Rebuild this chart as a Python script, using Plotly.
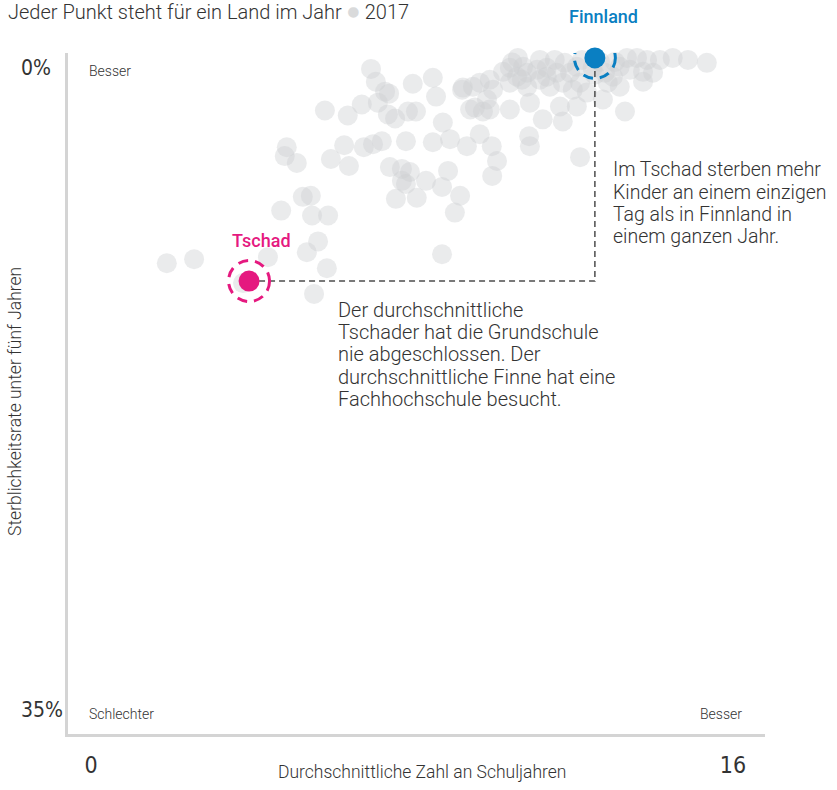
import plotly.graph_objects as go

# ---- data: mean years of schooling (x) vs. under-five mortality rate in % (y), 2017 ----
schooling = [
    10.64, 11.19, 11.56, 10.77, 10.44, 10.27, 10.62, 10.87, 11.12, 11.36, 11.61, 11.94, 12.11, 12.24,
    13.36, 13.61, 13.86, 14.18, 14.50, 14.88, 15.35, 13.18, 13.43, 13.76, 13.01, 12.81, 13.76, 14.01,
    9.94, 9.69, 9.27, 9.52, 10.02, 10.44, 10.74, 10.87, 11.19, 11.44, 11.36, 11.76, 12.01, 12.19,
    12.88, 13.18, 13.31, 9.57, 9.77, 9.87, 10.44, 10.94, 11.26, 11.69, 11.76, 12.11, 12.36, 12.76,
    8.77, 8.95, 9.37, 9.69, 9.99, 10.12, 10.92, 10.94, 12.19, 9.25, 9.45, 9.94, 10.00,
    6.98, 7.10, 7.33, 7.43, 8.02, 8.52, 8.60, 5.83, 6.40, 6.75, 7.15, 7.40, 7.58, 7.90, 8.10,
    4.88, 4.83, 5.13, 5.98, 6.31, 6.43, 6.80, 7.03, 7.25, 7.85, 8.52, 7.45, 7.75, 7.95, 7.75,
    7.85, 8.35, 8.75, 8.90, 7.60, 8.12, 9.20, 9.07, 8.75, 5.28, 5.48, 4.74, 5.51, 5.91, 5.66,
    5.38, 4.41, 5.88, 1.89, 2.57, 3.79, 5.56, 12.69, 13.06, 11.81, 12.56, 10.50, 12.50,
]
mortality = [
    0.05, 0.16, 0.16, 0.54, 0.59, 0.81, 1.08, 0.86, 0.70, 0.59, 0.86, 0.86, 0.54, 0.16,
    0.05, 0.05, 0.16, 0.16, 0.05, 0.16, 0.32, 0.54, 0.70, 0.81, 1.08, 0.86, 1.35, 0.86,
    1.24, 1.40, 1.67, 1.62, 1.78, 1.40, 1.24, 1.62, 1.24, 1.62, 1.08, 1.40, 1.78, 1.40,
    1.40, 1.62, 2.97, 2.76, 2.97, 2.32, 2.86, 2.49, 3.40, 2.70, 3.51, 2.70, 1.94, 2.32,
    3.57, 4.48, 4.86, 4.21, 4.86, 5.67, 4.32, 4.86, 5.46, 1.78, 2.86, 2.86, 6.48,
    0.65, 1.35, 1.89, 2.00, 1.46, 1.13, 2.16, 2.92, 3.19, 2.59, 2.49, 3.13, 3.35, 2.97, 2.97,
    4.92, 5.40, 5.78, 5.56, 4.81, 5.94, 4.92, 4.75, 4.59, 4.59, 4.65, 6.00, 6.10, 6.27, 6.75,
    6.92, 6.75, 7.08, 6.21, 7.73, 7.67, 7.56, 8.48, 10.75, 7.62, 7.56, 8.37, 8.64, 8.64, 10.05,
    10.64, 10.91, 11.51, 11.24, 11.02, 12.32, 12.91, 0.27, 0.27, 0.32, 0.97, 0.30, 0.60,
]

highlight_names = ["Tschad", "Finnland"]
highlight_x = [3.94, 12.56]
highlight_y = [12.21, 0.05]
highlight_colors = ["#e5197f", "#0a7fc2"]

y_ticks = [0, 35]
y_ticklabels = ["0%", "35%"]
x_ticks = [0, 16]
x_ticklabels = ["0", "16"]

note_finland = ["Im Tschad sterben mehr", "Kinder an einem einzigen",
                "Tag als in Finnland in", "einem ganzen Jahr."]
note_chad = ["Der durchschnittliche", "Tschader hat die Grundschule",
             "nie abgeschlossen. Der", "durchschnittliche Finne hat eine",
             "Fachhochschule besucht."]

TEXT = "#333333"
NARROW = "DejaVu Sans Condensed, Liberation Sans Narrow, Roboto, sans-serif"
BODY = "Roboto, Lato, sans-serif"

# plot-area geometry (pixels)
L, R, T, B = 68, 72, 53, 50
W, H = 837, 790
PW, PH = W - L - R, H - T - B


def px_x(p):
    return (p - L) / PW


def px_y(p):
    return (H - B - p) / PH


fig = go.Figure()

fig.add_trace(go.Scatter(
    x=schooling, y=mortality, mode="markers", cliponaxis=False,
    marker=dict(size=20, color="rgb(205,207,209)", opacity=0.42, line=dict(width=0)),
    hoverinfo="skip", showlegend=False,
))

# connector from Tschad to Finnland
fig.add_trace(go.Scatter(
    x=[highlight_x[0], highlight_x[1], highlight_x[1]],
    y=[highlight_y[0], highlight_y[0], highlight_y[1]],
    mode="lines", line=dict(color="#4d4d4d", width=1.5, dash="6px,4px"),
    hoverinfo="skip", showlegend=False,
))

fig.add_trace(go.Scatter(
    x=highlight_x, y=highlight_y, mode="markers", cliponaxis=False,
    marker=dict(size=21, color=highlight_colors, line=dict(width=0)),
    hoverinfo="skip", showlegend=False,
))

shapes = []
for hx, hy, hc in zip(highlight_x, highlight_y, highlight_colors):
    shapes.append(dict(
        type="circle", xref="x", yref="y",
        xsizemode="pixel", ysizemode="pixel",
        xanchor=hx, yanchor=hy,
        x0=-20.5, x1=20.5, y0=-20.5, y1=20.5,
        line=dict(color=hc, width=3, dash="10px,7px"),
        layer="above",
    ))

annotations = []
# highlight labels
for name, hx, hy, hc, dx in zip(highlight_names, highlight_x, highlight_y, highlight_colors, [12, 9]):
    annotations.append(dict(
        x=hx, y=hy, xref="x", yref="y", text=name, showarrow=False,
        xshift=dx, yshift=41, font=dict(family=BODY, size=18, color=hc, weight=500),
    ))

# y tick labels (left aligned, below the tick position)
for v, t in zip(y_ticks, y_ticklabels):
    annotations.append(dict(
        x=px_x(19), xref="paper", y=v, yref="y", text=t, showarrow=False,
        xanchor="left", yanchor="middle", yshift=-11,
        font=dict(family=NARROW, size=21, color=TEXT, weight=300),
    ))

# corner labels
annotations += [
    dict(x=px_x(87), y=px_y(71), xref="paper", yref="paper", text="Besser", showarrow=False,
         xanchor="left", yanchor="middle", font=dict(family=BODY, size=14, color=TEXT, weight=300)),
    dict(x=px_x(87), y=px_y(720), xref="paper", yref="paper", text="Schlechter", showarrow=False,
         xanchor="left", yanchor="middle", font=dict(family=BODY, size=14, color=TEXT, weight=300)),
    dict(x=px_x(744), y=px_y(720), xref="paper", yref="paper", text="Besser", showarrow=False,
         xanchor="right", yanchor="middle", font=dict(family=BODY, size=14, color=TEXT, weight=300)),
]

# explanatory texts, one line each
for i, line in enumerate(note_finland):
    annotations.append(dict(
        x=px_x(611), y=px_y(171 + 22.3 * i), xref="paper", yref="paper", text=line,
        showarrow=False, xanchor="left", yanchor="middle",
        font=dict(family=BODY, size=19.5, color=TEXT, weight=300)))
for i, line in enumerate(note_chad):
    annotations.append(dict(
        x=px_x(336), y=px_y(312 + 22.5 * i), xref="paper", yref="paper", text=line,
        showarrow=False, xanchor="left", yanchor="middle",
        font=dict(family=BODY, size=20, color=TEXT, weight=300)))

# axis titles and subtitle
annotations += [
    dict(x=px_x(422), y=px_y(778), xref="paper", yref="paper",
         text="Durchschnittliche Zahl an Schuljahren", showarrow=False,
         xanchor="center", yanchor="middle", font=dict(family=BODY, size=17.5, color=TEXT, weight=300)),
    dict(x=px_x(15), y=px_y(405), xref="paper", yref="paper", textangle=-90,
         text="Sterblichkeitsrate unter fünf Jahren", showarrow=False,
         xanchor="center", yanchor="middle", font=dict(family=BODY, size=17.5, color=TEXT, weight=300)),
    dict(x=px_x(6), y=px_y(11), xref="paper", yref="paper",
         text="Jeder Punkt steht für ein Land im Jahr <span style='color:#d9dadb;font-size:22px'>●</span> 2017",
         showarrow=False, xanchor="left", yanchor="middle",
         font=dict(family=BODY, size=20, color=TEXT, weight=300)),
]

fig.update_layout(
    width=W, height=H,
    margin=dict(l=L, r=R, t=T, b=B),
    paper_bgcolor="white", plot_bgcolor="white",
    shapes=shapes, annotations=annotations,
    xaxis=dict(range=[-0.573, 16.8], tickvals=x_ticks, ticktext=x_ticklabels,
               showgrid=False, zeroline=False, showline=True, linecolor="#d4d4d4", linewidth=3,
               ticks="", ticklabelstandoff=8,
               tickfont=dict(family=NARROW, size=23, color=TEXT, weight=300)),
    yaxis=dict(range=[36.89, -0.216], showticklabels=False,
               showgrid=False, zeroline=False, showline=True, linecolor="#d4d4d4", linewidth=3,
               ticks=""),
)

fig.write_html("out.html", config={"displayModeBar": False},
               post_script="document.body.style.margin='0px';document.body.style.overflow='hidden';")
